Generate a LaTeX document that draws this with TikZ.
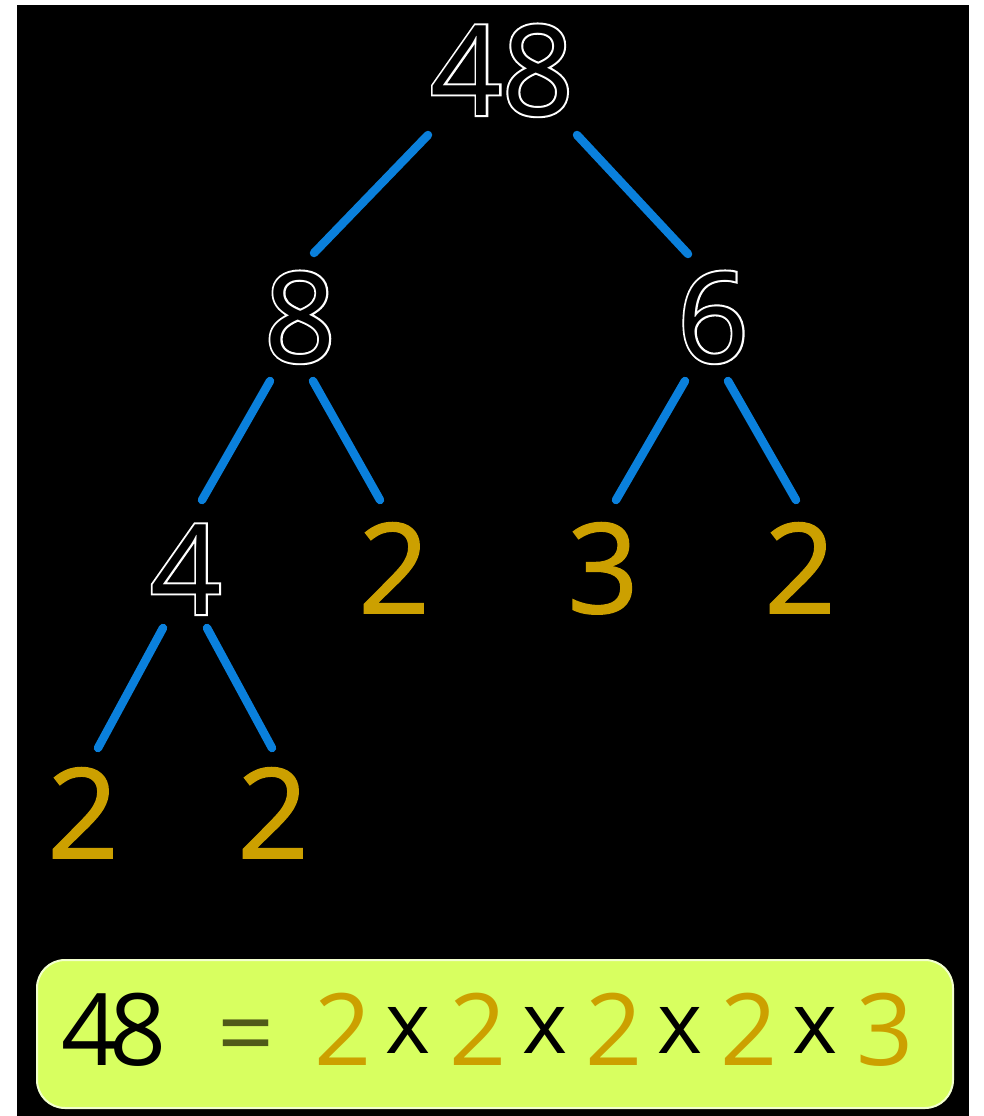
\documentclass[tikz,border=0pt]{standalone}
\usepackage{fontspec}
\setmainfont{Open Sans}
\definecolor{gold}{RGB}{204,160,0}
\definecolor{lnblue}{RGB}{10,128,220}
\definecolor{boxfill}{RGB}{216,255,96}
\definecolor{boxedge}{RGB}{242,255,205}
\definecolor{eqcol}{RGB}{80,90,25}
\begin{document}
\begin{tikzpicture}[x=1pt,y=-1pt,
  treenum/.style={font=\fontsize{125}{125}\selectfont,inner sep=0pt,anchor=base},
  halonum/.style={inner sep=0pt,anchor=base,text=white,
    font=\fontsize{125}{125}\selectfont\addfontfeatures{FakeBold=3.2}},
  hollownum/.style={treenum,text=black},
  goldnum/.style={inner sep=0pt,anchor=base,text=gold,
    font=\fontsize{125}{125}\selectfont\addfontfeatures{FakeBold=1.2}},
  eqnum/.style={font=\fontsize{100}{100}\selectfont,inner sep=0pt,anchor=base},
  eqtimes/.style={font=\fontsize{86}{86}\selectfont,inner sep=0pt,anchor=base,text=black},
  branch/.style={draw=lnblue,line width=8.5pt,line cap=round}]
\useasboundingbox (0,0) rectangle (984,1116);
% white margins and black board
\fill[white] (0,0) rectangle (17,1116);
\fill[white] (969,0) rectangle (984,1116);
\fill[white] (17,0) rectangle (969,5);
\fill[black] (17,5) rectangle (969,1116);

% tree numbers: outlined (white halo under black)
\foreach \nm/\px/\py/\tx in {h48/502/115/48, h8/300/362/8, h6/713/362/6, h4/186/614/4}
  \node[halonum] (\nm) at (\px,\py) {\tx};
\node[hollownum] (n48) at (502,115) {48};
\node[hollownum] (n8) at (300,362) {8};
\node[hollownum] (n6) at (713,362) {6};
\node[hollownum] (n4) at (186,614) {4};
\node[goldnum] (g2a) at (394,613) {2};
\node[goldnum] (g3) at (603,613) {3};
\node[goldnum] (g2b) at (800,613) {2};
\node[goldnum] (g2c) at (83,858) {2};
\node[goldnum] (g2d) at (273,858) {2};

% branch end points
\coordinate (b1s) at (428,135); \coordinate (b1e) at (314,253);
\coordinate (b2s) at (577,135); \coordinate (b2e) at (688,254);
\coordinate (b3s) at (270,381); \coordinate (b3e) at (202,500);
\coordinate (b4s) at (313,381); \coordinate (b4e) at (380,500);
\coordinate (b5s) at (685,381); \coordinate (b5e) at (616,500);
\coordinate (b6s) at (728,381); \coordinate (b6e) at (796,500);
\coordinate (b7s) at (163,628); \coordinate (b7e) at (98,748);
\coordinate (b8s) at (207,628); \coordinate (b8e) at (272,748);
\foreach \i in {1,...,8} \draw[branch] (b\i s) -- (b\i e);

% result box
\draw[fill=boxfill,draw=boxedge,line width=2pt,rounded corners=28pt]
  (37,960) rectangle (953,1108);
\node[eqnum,text=black] (e4) at (90,1065) {4};
\node[eqnum,text=black] (e8) at (138,1065) {8};
\node[eqnum,text=eqcol] (eq) at (246,1068) {=};
\node[eqnum,text=gold] (f1) at (343,1065) {2};
\node[eqtimes] (x1) at (408,1053) {x};
\node[eqnum,text=gold] (f2) at (478,1065) {2};
\node[eqtimes] (x2) at (545,1053) {x};
\node[eqnum,text=gold] (f3) at (614,1065) {2};
\node[eqtimes] (x3) at (680,1053) {x};
\node[eqnum,text=gold] (f4) at (749,1065) {2};
\node[eqtimes] (x4) at (815,1053) {x};
\node[eqnum,text=gold] (f5) at (885,1065) {3};
\end{tikzpicture}
\end{document}
